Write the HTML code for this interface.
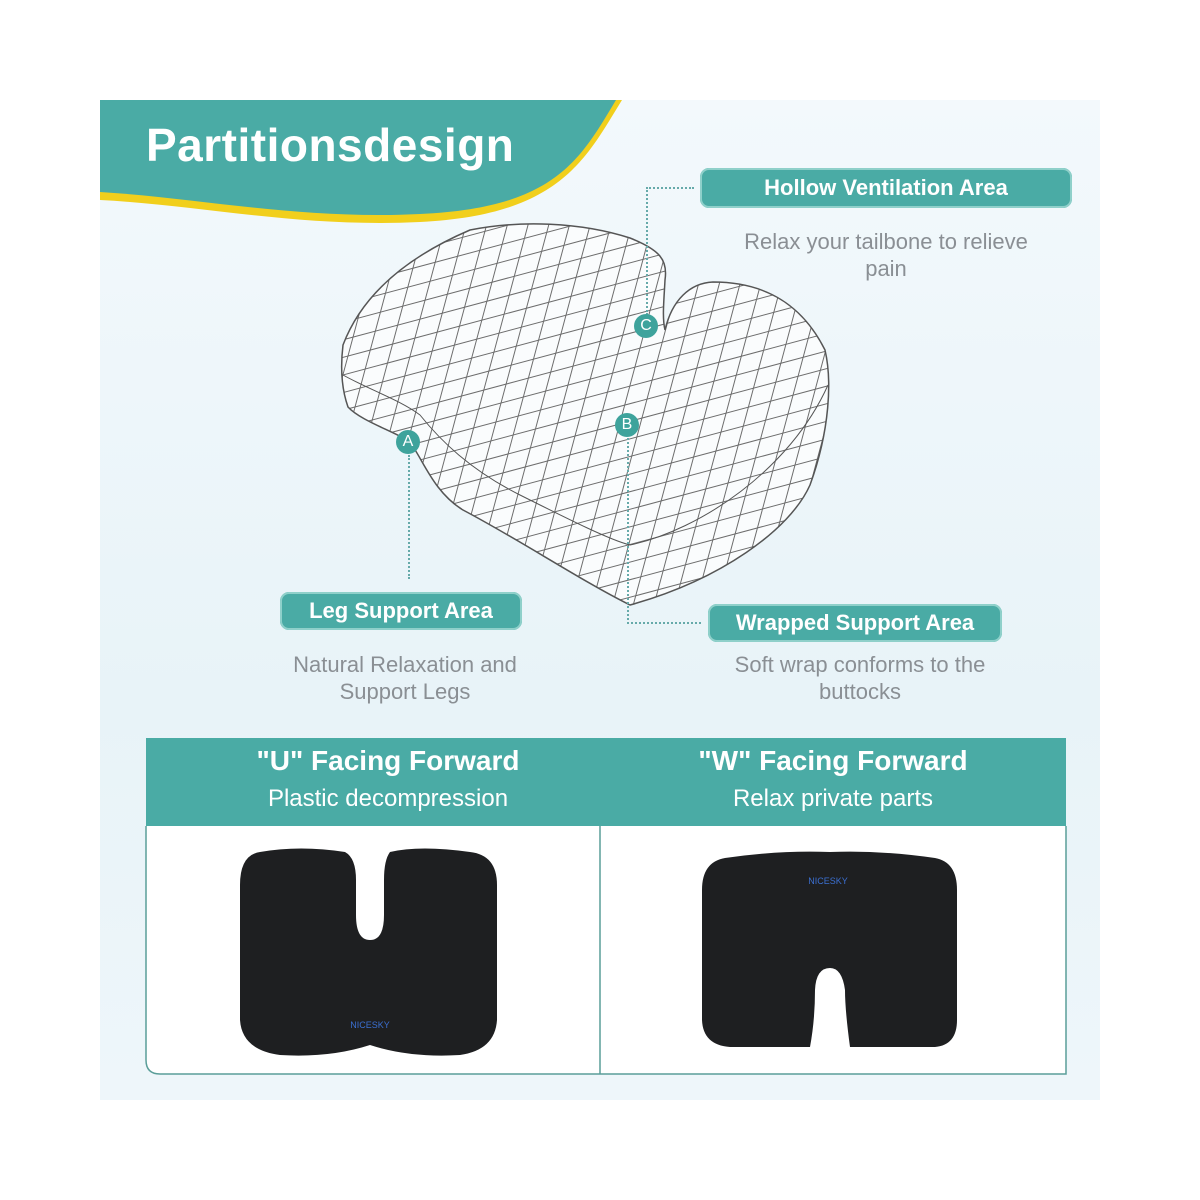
<!DOCTYPE html>
<html><head><style>
body{margin:0;width:1200px;height:1200px;background:#fff;font-family:"Liberation Sans",sans-serif;position:relative;overflow:hidden}
.panel{position:absolute;left:100px;top:100px;width:1000px;height:1000px;background:linear-gradient(180deg,#f3f9fc,#e8f3f8 60%,#eef6fa)}
.pill{position:absolute;background:#4aaba5;color:#fff;border-radius:9px;font-size:22px;font-weight:bold;text-align:center;box-shadow:0 0 0 2px #8fd0ca inset}
.sub{position:absolute;color:#8a8f94;font-size:22px;text-align:center;line-height:27px}
.mk{position:absolute;width:24px;height:24px;border-radius:50%;background:#3ea39c;color:#fff;font-size:16px;text-align:center;line-height:24px}
.dl{position:absolute;border-color:#6aa;border-style:dotted;border-width:0}
</style></head><body>
<div class="panel"></div>
<svg style="position:absolute;left:0;top:0" width="1200" height="1200">
<path d="M100 100 L622 100 C585 160 560 215 420 222 C300 228 200 205 100 200 Z" fill="#f1cf1c"/>
<path d="M100 100 L616 100 C580 160 555 208 420 214 C300 220 200 198 100 192 Z" fill="#4aaba5"/>
<defs><clipPath id="c"><path id="cp" d="M343 345 C360 300 400 260 470 230 C520 220 580 222 630 238 C660 250 668 260 665 280 C664 300 662 318 665 330 C672 300 690 283 713 282 C760 282 800 300 825 350 C832 380 830 430 810 485 C790 530 720 580 630 605 C580 580 520 540 463 510 C430 490 420 450 407 440 C390 430 360 420 348 407 C342 390 340 370 343 345 Z"/></clipPath></defs>
<g clip-path="url(#c)" stroke="#6d6d6d" stroke-width="1" fill="none">
<rect x="330" y="210" width="540" height="410" fill="#fafcfd" stroke="none"/>
<g transform="rotate(-15 600 420)">
<path d="M250 140h700M250 157h700M250 174h700M250 191h700M250 208h700M250 225h700M250 242h700M250 259h700M250 276h700M250 293h700M250 310h700M250 327h700M250 344h700M250 361h700M250 378h700M250 395h700M250 412h700M250 429h700M250 446h700M250 463h700M250 480h700M250 497h700M250 514h700M250 531h700M250 548h700M250 565h700M250 582h700M250 599h700M250 616h700M250 633h700M250 650h700M250 667h700M250 684h700M250 701h700"/>
</g>
<g transform="rotate(15 600 420)">
<path d="M260 100v700M280 100v700M300 100v700M320 100v700M340 100v700M360 100v700M380 100v700M400 100v700M420 100v700M440 100v700M460 100v700M480 100v700M500 100v700M520 100v700M540 100v700M560 100v700M580 100v700M600 100v700M620 100v700M640 100v700M660 100v700M680 100v700M700 100v700M720 100v700M740 100v700M760 100v700M780 100v700M800 100v700M820 100v700M840 100v700M860 100v700M880 100v700M900 100v700M920 100v700"/>
</g>
<path d="M343 375 C370 390 400 400 420 415 C440 440 470 470 520 495 C570 520 610 540 630 545 C700 530 790 470 828 385" stroke="#555"/>
</g>
<use href="#cp" fill="none" stroke="#555" stroke-width="1.5"/>
<rect x="146" y="738" width="920" height="88" fill="#4aaba5"/>
<path d="M146 826 V1060 Q146 1074 160 1074 H1066 V826" fill="#fff" stroke="#5a9e99" stroke-width="1.5"/>
<line x1="600" y1="826" x2="600" y2="1074" stroke="#5a9e99" stroke-width="1.5"/>
<path d="M260 852 Q240 855 240 885 V1020 Q242 1050 280 1055 Q330 1058 370 1045 Q410 1058 460 1055 Q495 1050 497 1020 V885 Q497 855 470 852 Q420 845 390 852 Q384 860 384 880 V915 Q384 940 370 940 Q356 940 356 915 V880 Q356 858 345 852 Q300 845 260 852Z" fill="#1e1f21"/>
<path d="M725 858 Q780 850 830 852 Q880 850 935 858 Q957 862 957 890 V1020 Q957 1045 935 1047 H850 Q845 1010 845 990 Q842 968 830 968 Q816 968 815 990 Q815 1020 810 1047 H730 Q703 1045 702 1020 V890 Q702 862 725 858 Z" fill="#1e1f21"/>
<text x="370" y="1028" fill="#3b6fd1" font-size="9" text-anchor="middle">NICESKY</text>
<text x="828" y="884" fill="#3b6fd1" font-size="9" text-anchor="middle">NICESKY</text>
</svg>
<div style="position:absolute;left:146px;top:118px;font-size:46px;color:#fff;font-weight:bold;letter-spacing:0.5px">Partitionsdesign</div>
<div class="pill" style="left:700px;top:168px;width:372px;height:40px;line-height:40px">Hollow Ventilation Area</div>
<div class="sub" style="left:700px;top:228px;width:372px">Relax your tailbone to relieve<br>pain</div>
<div class="pill" style="left:280px;top:592px;width:242px;height:38px;line-height:38px">Leg Support Area</div>
<div class="sub" style="left:250px;top:651px;width:310px">Natural Relaxation and<br>Support Legs</div>
<div class="pill" style="left:708px;top:604px;width:294px;height:38px;line-height:38px">Wrapped Support Area</div>
<div class="sub" style="left:690px;top:651px;width:340px">Soft wrap conforms to the<br>buttocks</div>
<div class="dl" style="left:646px;top:187px;width:46px;height:126px;border-left-width:2px;border-top-width:2px"></div>
<div class="dl" style="left:408px;top:455px;height:124px;border-left-width:2px"></div>
<div class="dl" style="left:627px;top:438px;width:72px;height:184px;border-left-width:2px;border-bottom-width:2px"></div>
<div class="mk" style="left:634px;top:314px">C</div>
<div class="mk" style="left:615px;top:413px">B</div>
<div class="mk" style="left:396px;top:430px">A</div>
<div style="position:absolute;left:146px;top:745px;width:484px;text-align:center;color:#fff;font-size:28px;font-weight:bold">"U" Facing Forward</div>
<div style="position:absolute;left:146px;top:785px;width:484px;text-align:center;color:#fff;font-size:24px">Plastic decompression</div>
<div style="position:absolute;left:600px;top:745px;width:466px;text-align:center;color:#fff;font-size:28px;font-weight:bold">"W" Facing Forward</div>
<div style="position:absolute;left:600px;top:785px;width:466px;text-align:center;color:#fff;font-size:24px">Relax private parts</div>
</body></html>
